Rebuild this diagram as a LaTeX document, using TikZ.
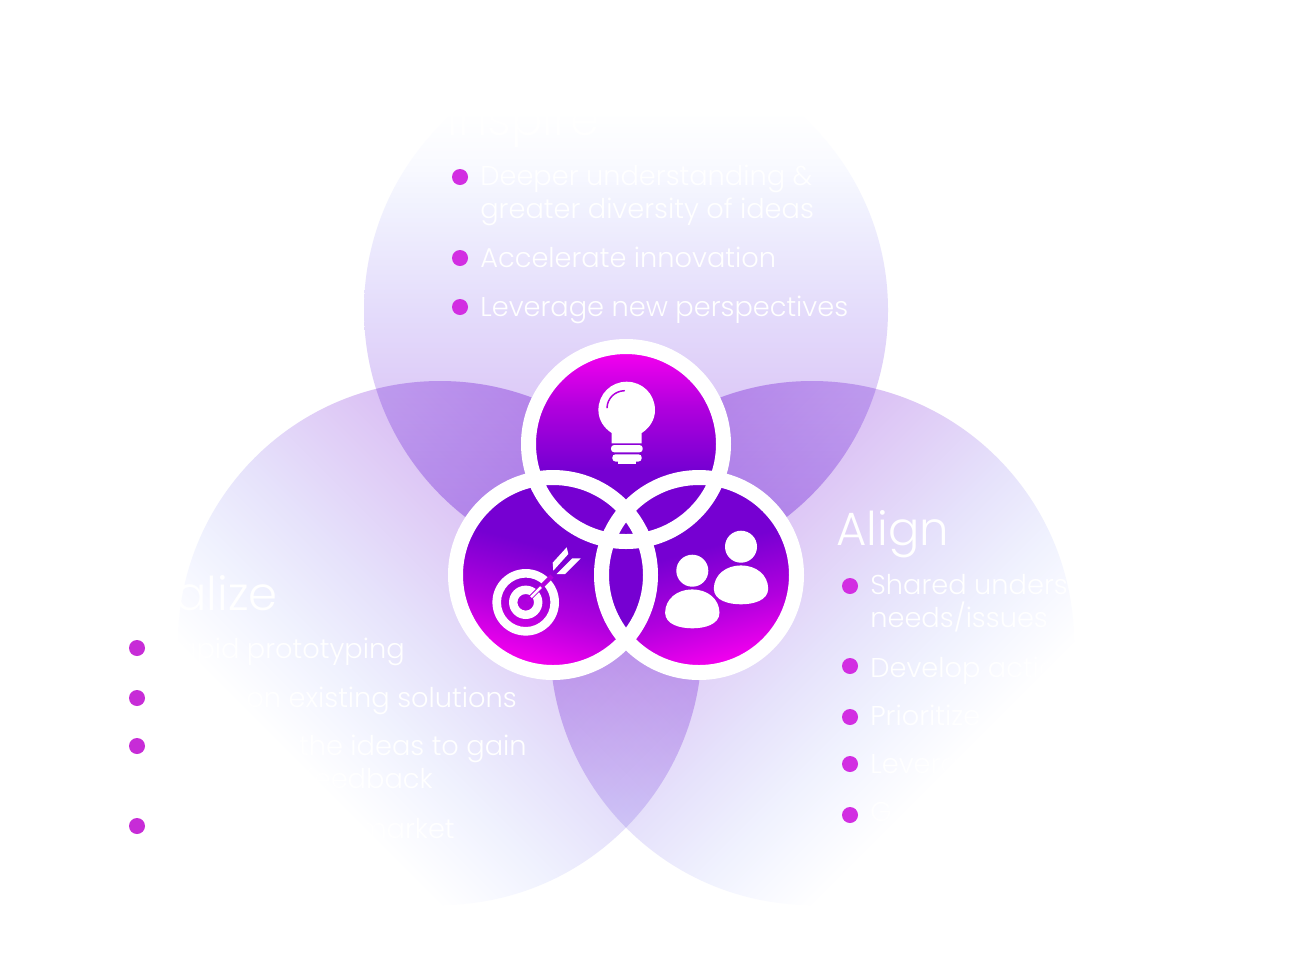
\documentclass[tikz,border=0pt]{standalone}
\usepackage{fontspec}
\setmainfont{Poppins}[UprightFont=* Light]
\usepackage{tikz}
\definecolor{deeppurple}{RGB}{118,0,210}
\definecolor{brightmagenta}{RGB}{242,0,238}
\definecolor{midmagenta}{RGB}{178,0,222}
\definecolor{bulletpink}{RGB}{210,46,226}
% big circles, white end to lilac end
\pgfdeclareverticalshading{topfade}{100bp}{color(0bp)=(white); color(31bp)=(white); color(36bp)=(rgb,255:red,249;green,250;blue,255); color(40bp)=(rgb,255:red,241;green,242;blue,254); color(50bp)=(rgb,255:red,228;green,220;blue,251); color(59.5bp)=(rgb,255:red,220;green,200;blue,247); color(75bp)=(rgb,255:red,198;green,158;blue,241); color(100bp)=(rgb,255:red,198;green,158;blue,241)}
\pgfdeclareverticalshading{sidefade}{100bp}{color(0bp)=(white); color(32bp)=(white); color(37bp)=(rgb,255:red,247;green,248;blue,255); color(41bp)=(rgb,255:red,240;green,242;blue,254); color(49bp)=(rgb,255:red,230;green,226;blue,251); color(58.6bp)=(rgb,255:red,223;green,203;blue,246); color(75bp)=(rgb,255:red,206;green,164;blue,240); color(100bp)=(rgb,255:red,206;green,164;blue,240)}
% small discs
\pgfdeclareverticalshading{discfade}{100bp}{color(0bp)=(brightmagenta); color(26.8bp)=(brightmagenta); color(40bp)=(midmagenta); color(56.4bp)=(deeppurple); color(100bp)=(deeppurple)}
\tikzset{
  headline/.style={text=white, font=\fontsize{26.5}{26.5}\selectfont, inner sep=0pt},
  itemline/.style={text=white, font=\fontsize{15.5}{15.5}\selectfont, inner sep=0pt},
  ringline/.style={draw=white, line width=0.3cm},
  iconfill/.style={fill=white, draw=none}
}
\begin{document}
\begin{tikzpicture}[x=0.02cm, y=-0.02cm]
  \useasboundingbox (0,0) rectangle (1311,968);
  \fill[white] (0,0) rectangle (1311,968);

  % Big circles
  \begin{scope}[blend mode=multiply]
    \shade[shading=topfade, shading angle=180] (626,310) circle[radius=262];
    \shade[shading=sidefade, shading angle=-45] (440,643) circle[radius=262];
    \shade[shading=sidefade, shading angle=45] (812,643) circle[radius=262];
  \end{scope}

  % Small discs
  \shade[shading=discfade, shading angle=-15] (553,575) circle[radius=97];
  \shade[shading=discfade, shading angle=15] (699,575) circle[radius=97];
  \shade[shading=discfade, shading angle=180] (626,444) circle[radius=97];
  \begin{scope}
    \clip (553,575) circle[radius=97];
    \fill[deeppurple] (699,575) circle[radius=97];
  \end{scope}
  \draw[ringline] (553,575) circle[radius=97.5];
  \draw[ringline] (699,575) circle[radius=97.5];
  \draw[ringline] (626,444) circle[radius=97.5];

  % Bulb
  \fill[iconfill] (611.7,443.3) -- (611.7,433)
    .. controls (604,428) and (598.4,420) .. (598.4,410)
    .. controls (598.4,394) and (611,381.7) .. (626.7,381.7)
    .. controls (642.4,381.7) and (655,394) .. (655,410)
    .. controls (655,420) and (649.4,428) .. (641.7,433)
    -- (641.7,443.3) -- cycle;
  \fill[iconfill, rounded corners=1.8pt] (611,445) rectangle (642.7,452.3);
  \fill[iconfill, rounded corners=1.8pt] (612.3,454.3) rectangle (641.7,461.5);
  \fill[iconfill] (618.3,460) rectangle (635.7,464);
  \draw[midmagenta, line width=0.03cm, line cap=round] (607,407.7)
    .. controls (607.5,398) and (615,391) .. (624.3,390.7);

  % Target
  \fill[iconfill, even odd rule] (525.7,602.3) circle[radius=33.3] circle[radius=24.7]
    circle[radius=16.7] circle[radius=8.3];
  \draw[midmagenta, line width=0.09cm] (527,601) -- (552,576);
  \draw[white, line width=0.05cm] (531,597) -- (541,587);
  \fill[iconfill] (552.7,562.7) -- (566.7,547.3) -- (568.3,554) -- (553.3,570.7) -- cycle;
  \fill[iconfill] (556.7,574) -- (572.3,558.3) -- (580.7,558.3) -- (565,574) -- cycle;

  % People
  \foreach \cx/\cy in {741/546.7, 692.3/570.7} {
    \fill[iconfill] (\cx,\cy) circle[radius=16];
    \fill[iconfill] (\cx-27.2,\cy+42)
      .. controls (\cx-27,\cy+28) and (\cx-15,\cy+18.7) .. (\cx,\cy+18.7)
      .. controls (\cx+15,\cy+18.7) and (\cx+27,\cy+28) .. (\cx+27.2,\cy+42)
      .. controls (\cx+27,\cy+54) and (\cx+12,\cy+57.6) .. (\cx,\cy+57.6)
      .. controls (\cx-12,\cy+57.6) and (\cx-27,\cy+54) .. (\cx-27.2,\cy+42) -- cycle;
  }

  % Bullets
  \foreach \bx/\by in {460/177, 460/258, 460/307, 850/586, 850/666, 850/717, 850/764, 850/815}
    \fill[bulletpink] (\bx,\by) circle[radius=8];
  \foreach \by in {648, 698, 746, 826}
    \fill[bulletpink!95!black] (137,\by) circle[radius=8];

  % Inspire
  \node[headline, anchor=base west] (inspire) at (447,135) {Inspire};
  \node[itemline, anchor=base west] (deeper) at (480,185) {Deeper understanding \&};
  \node[itemline, anchor=base west] (greater) at (480,218) {greater diversity of ideas};
  \node[itemline, anchor=base west] (accelerate) at (480,267) {Accelerate innovation};
  \node[itemline, anchor=base west] (leverage) at (480,316) {Leverage new perspectives};

  % Realize
  \node[headline, anchor=base east] (realize) at (278,610) {Realize};
  \node[itemline, anchor=base east] (rapid) at (405,658) {Rapid prototyping};
  \node[itemline, anchor=base east] (existing) at (517,707) {on existing solutions};
  \node[itemline, anchor=base east] (theideas) at (527,755) {the ideas to gain};
  \node[itemline, anchor=base east] (feedback) at (433,788) {feedback};
  \node[itemline, anchor=base east] (market) at (455,838) {market};

  % Align
  \node[headline, anchor=base west] (align) at (836,545) {Align};
  \node[itemline, anchor=base west] (shared) at (870,594) {Shared understanding};
  \node[itemline, anchor=base west] (needs) at (870,627) {needs/issues};
  \node[itemline, anchor=base west] (develop) at (870,677) {Develop action};
  \node[itemline, anchor=base west] (prioritize) at (870,725) {Prioritize};
  \node[itemline, anchor=base west] (lever) at (870,773) {Leverage};
  \node[itemline, anchor=base west] (gtext) at (870,821) {G};
\end{tikzpicture}
\end{document}
